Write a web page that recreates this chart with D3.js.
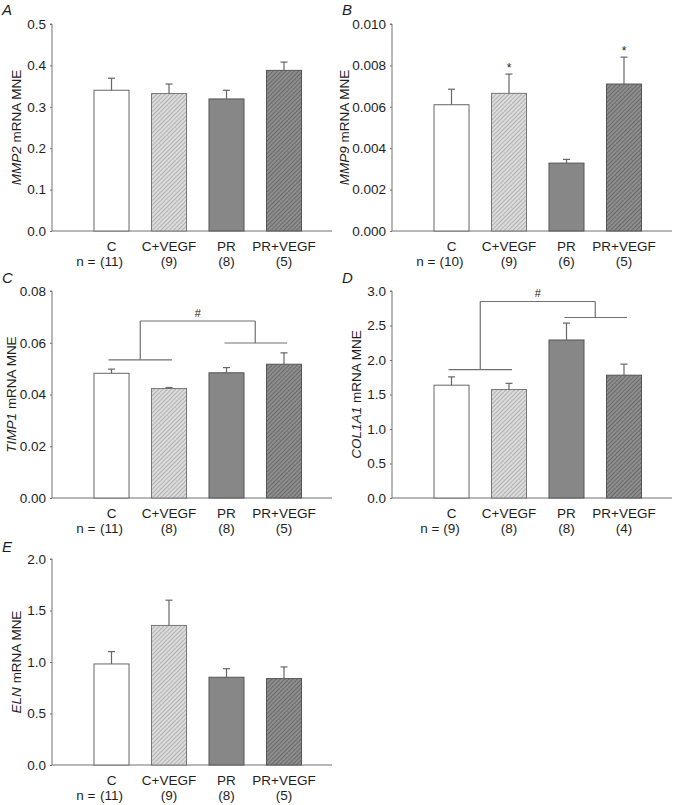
<!DOCTYPE html>
<html><head><meta charset="utf-8">
<script src="https://cdn.jsdelivr.net/npm/d3@7"></script>
<style>
body{margin:0;background:#fff;}
svg{display:block;font-family:"Liberation Sans",Arial,sans-serif;}
</style></head>
<body><svg id="chart" width="685" height="805"></svg>
<script>
const categories = ["C", "C+VEGF", "PR", "PR+VEGF"];

const mmp2Mean = [0.340, 0.332, 0.319, 0.388];
const mmp2Err  = [0.029, 0.023, 0.021, 0.020];
const mmp2N    = [11, 9, 8, 5];
const mmp2Ticks = [0, 0.1, 0.2, 0.3, 0.4, 0.5];

const mmp9Mean = [0.0061, 0.00665, 0.00328, 0.0071];
const mmp9Err  = [0.00075, 0.00093, 0.00018, 0.0013];
const mmp9N    = [10, 9, 6, 5];
const mmp9Ticks = [0, 0.002, 0.004, 0.006, 0.008, 0.010];
const mmp9Stars = ["", "*", "", "*"];

const timp1Mean = [0.0482, 0.0423, 0.0484, 0.0517];
const timp1Err  = [0.0016, 0.0004, 0.0020, 0.0044];
const timp1N    = [11, 8, 8, 5];
const timp1Ticks = [0, 0.02, 0.04, 0.06, 0.08];
const timp1Bracket = [0.0534, 0.0599, 0.0684]; // left line, right line, top

const col1a1Mean = [1.635, 1.572, 2.29, 1.78];
const col1a1Err  = [0.12, 0.09, 0.245, 0.16];
const col1a1N    = [9, 8, 8, 4];
const col1a1Ticks = [0, 0.5, 1.0, 1.5, 2.0, 2.5, 3.0];
const col1a1Bracket = [1.86, 2.616, 2.848];

const elnMean = [0.981, 1.355, 0.852, 0.839];
const elnErr  = [0.12, 0.245, 0.083, 0.113];
const elnN    = [11, 9, 8, 5];
const elnTicks = [0, 0.5, 1.0, 1.5, 2.0];

const svg = d3.select("#chart");
const defs = svg.append("defs");

function hatch(id, bg, line) {
  const p = defs.append("pattern").attr("id", id)
    .attr("patternUnits", "userSpaceOnUse").attr("width", 3).attr("height", 3)
    .attr("patternTransform", "rotate(45)");
  p.append("rect").attr("width", 3).attr("height", 3).attr("fill", bg);
  p.append("line").attr("x1", 0).attr("y1", 0).attr("x2", 0).attr("y2", 3)
    .attr("stroke", line).attr("stroke-width", 1.3);
}
hatch("hLight", "#dcdcdc", "#9a9a9a");
hatch("hDark", "#8e8e8e", "#555555");

const fills = ["#ffffff", "url(#hLight)", "#878787", "url(#hDark)"];
const strokes = ["#666", "#777", "#555", "#555"];
const axisColor = "#707070";
const textColor = "#1e1e1e";
const fs = "13.5px";

function panel(opt) {
  const { x0, yTop, yBot, letter, letterY, labelX, gene, means, errs, ns, ticks, fmt, stars, bracket } = opt;
  const g = svg.append("g");
  const y = d3.scaleLinear().domain([ticks[0], ticks[ticks.length - 1]]).range([yBot, yTop]);
  const x = d3.scaleBand().domain(categories).range([x0 + 30.75, x0 + 260.75])
    .paddingInner(0.391).paddingOuter(0.1957);

  // y axis
  const ya = g.append("g").attr("transform", `translate(${x0},0)`)
    .call(d3.axisLeft(y).tickValues(ticks).tickFormat(d3.format(fmt)).tickSize(2).tickPadding(4));
  ya.select(".domain").attr("stroke", axisColor).attr("d", `M-2,${yTop}H0V${yBot}`);
  ya.selectAll(".tick line").attr("stroke", axisColor);
  ya.selectAll(".tick text").attr("fill", textColor).style("font-size", fs);

  // x axis line
  g.append("line").attr("x1", x0).attr("x2", x0 + 280).attr("y1", yBot).attr("y2", yBot)
    .attr("stroke", axisColor).attr("stroke-width", 1);

  // bars
  categories.forEach((c, i) => {
    const bx = x(c), bw = x.bandwidth();
    g.append("rect").attr("x", bx).attr("y", y(means[i])).attr("width", bw)
      .attr("height", y(0) - y(means[i])).attr("fill", fills[i])
      .attr("stroke", strokes[i]).attr("stroke-width", 1);
    const cx = bx + bw / 2;
    g.append("line").attr("x1", cx).attr("x2", cx).attr("y1", y(means[i])).attr("y2", y(means[i] + errs[i]))
      .attr("stroke", "#666").attr("stroke-width", 1.2);
    g.append("line").attr("x1", cx - 3.5).attr("x2", cx + 3.5)
      .attr("y1", y(means[i] + errs[i])).attr("y2", y(means[i] + errs[i]))
      .attr("stroke", "#666").attr("stroke-width", 1.2);
    if (stars && stars[i]) {
      g.append("text").attr("x", cx).attr("y", y(means[i] + errs[i]) - 2)
        .attr("text-anchor", "middle").attr("fill", textColor).style("font-size", "12px")
        .text(stars[i]);
    }
    // labels
    g.append("text").attr("x", cx).attr("y", yBot + 20).attr("text-anchor", "middle")
      .attr("fill", textColor).style("font-size", fs).text(c);
    g.append("text").attr("x", cx).attr("y", yBot + 35).attr("text-anchor", "middle")
      .attr("fill", textColor).style("font-size", fs).text(`(${ns[i]})`);
    if (i === 0) {
      const off = ns[i] >= 10 ? 16 : 12;
      g.append("text").attr("x", cx - off).attr("y", yBot + 35).attr("text-anchor", "end")
        .attr("fill", textColor).style("font-size", fs).text("n =");
    }
  });

  // bracket
  if (bracket) {
    const c = categories.map(k => x(k) + x.bandwidth() / 2);
    const yl = y(bracket[0]), yr = y(bracket[1]), yt = y(bracket[2]);
    const ml = (c[0] + c[1]) / 2, mr = (c[2] + c[3]) / 2;
    const line = (x1, y1, x2, y2) => g.append("line").attr("x1", x1).attr("y1", y1)
      .attr("x2", x2).attr("y2", y2).attr("stroke", axisColor).attr("stroke-width", 1.2);
    line(c[0] - 3, yl, c[1] + 3, yl);
    line(c[2] - 2, yr, c[3] + 3, yr);
    line(ml, yl, ml, yt);
    line(ml, yt, mr, yt);
    line(mr, yt, mr, yr);
    g.append("text").attr("x", (ml + mr) / 2).attr("y", yt - 4).attr("text-anchor", "middle")
      .attr("fill", textColor).style("font-size", "11px").text("#");
  }

  // y label
  const yl = g.append("text")
    .attr("transform", `translate(${labelX},${(yTop + yBot) / 2}) rotate(-90)`)
    .attr("text-anchor", "middle").attr("fill", textColor).style("font-size", fs);
  yl.append("tspan").style("font-style", "italic").text(gene);
  yl.append("tspan").text(" mRNA MNE");

  // panel letter
  g.append("text").attr("x", x0 - 50).attr("y", letterY).attr("fill", textColor)
    .style("font-size", "15px").style("font-style", "italic").text(letter);
}

panel({ x0: 52, yTop: 24, yBot: 231, letter: "A", letterY: 15, labelX: 21, gene: "MMP2",
  means: mmp2Mean, errs: mmp2Err, ns: mmp2N, ticks: mmp2Ticks, fmt: ".1f" });
panel({ x0: 392, yTop: 24, yBot: 231, letter: "B", letterY: 15, labelX: 349, gene: "MMP9",
  means: mmp9Mean, errs: mmp9Err, ns: mmp9N, ticks: mmp9Ticks, fmt: ".3f", stars: mmp9Stars });
panel({ x0: 52, yTop: 291, yBot: 498, letter: "C", letterY: 283, labelX: 16, gene: "TIMP1",
  means: timp1Mean, errs: timp1Err, ns: timp1N, ticks: timp1Ticks, fmt: ".2f", bracket: timp1Bracket });
panel({ x0: 392, yTop: 291, yBot: 498, letter: "D", letterY: 283, labelX: 361, gene: "COL1A1",
  means: col1a1Mean, errs: col1a1Err, ns: col1a1N, ticks: col1a1Ticks, fmt: ".1f", bracket: col1a1Bracket });
panel({ x0: 52, yTop: 559, yBot: 765, letter: "E", letterY: 552, labelX: 21, gene: "ELN",
  means: elnMean, errs: elnErr, ns: elnN, ticks: elnTicks, fmt: ".1f" });
</script>
</body></html>
